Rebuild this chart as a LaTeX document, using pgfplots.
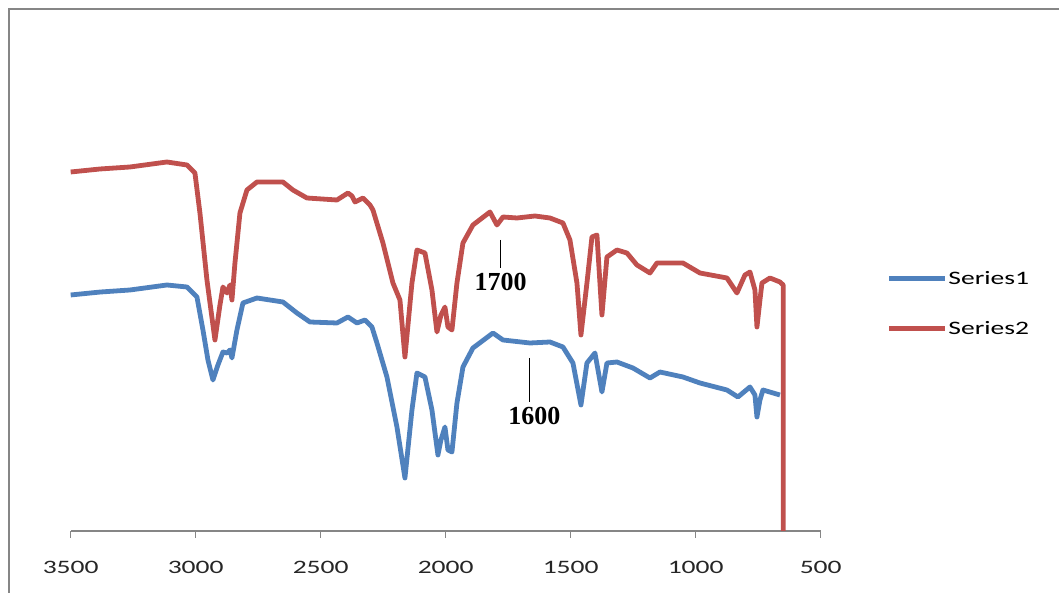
\documentclass[border=0pt]{standalone}
\usepackage{fontspec}
\setmainfont{Carlito}[FakeStretch=1.45]
\newfontfamily\annfont{Liberation Serif}
\usepackage{pgfplots}
\pgfplotsset{compat=1.18}
\definecolor{serA}{HTML}{4F81BD}
\definecolor{serB}{HTML}{C0504D}
\definecolor{axgray}{HTML}{868686}
\begin{document}
\begin{tikzpicture}[x=1pt,y=1pt]
\path[use as bounding box] (0,0) rectangle (1059,593);
\fill[white] (0,0) rectangle (1059,593);
\draw[color=axgray, line width=2.5pt] (9,0) -- (9,584) -- (1059,584);
\begin{axis}[
  at={(70.7pt,62pt)}, anchor=south west,
  width=750pt, height=500pt, scale only axis,
  xmin=500, xmax=3500, x dir=reverse,
  ymin=0, ymax=500,
  axis x line=bottom, axis y line=none,
  x axis line style={color=axgray, line width=1.5pt, -},
  xtick={500,1000,1500,2000,2500,3000,3500},
  major tick length=7pt, tick align=outside,
  xtick style={color=axgray, line width=1.2pt},
  xticklabel style={anchor=center, yshift=-29pt, font=\fontsize{19}{22}\selectfont, text=black!85},
  /pgf/number format/assume math mode=true,
  /pgf/number format/set thousands separator={},
  clip=false,
  legend style={at={(1.088,0.455)}, anchor=west, draw=none, fill=none,
    font=\fontsize{19}{22}\selectfont, row sep=33pt, inner sep=0pt,
    nodes={inner sep=1pt}},
  legend cell align=left,
  legend image code/.code={\draw[#1, line width=4.5pt] (0pt,0pt) -- (56pt,0pt);},
]
\addplot[color=serA, line width=4.8pt, line join=round] coordinates {
(3500,236)(3380,239)(3263,241)(3115,246)(3035,244)(2995,234)(2971,201)(2951,171)
(2931,151)(2911,166)(2891,179)(2875,178)(2863,181)(2855,173)(2835,201)(2811,228)
(2755,233)(2651,229)(2595,218)(2543,209)(2435,208)(2391,214)(2355,208)(2323,211)
(2295,204)(2275,188)(2235,154)(2195,104)(2163,53)(2135,121)(2115,158)(2083,154)
(2055,121)(2031,76)(2019,91)(2003,104)(1991,81)(1975,79)(1955,128)(1931,164)
(1891,183)(1811,198)(1771,191)(1663,188)(1583,189)(1531,184)(1491,168)(1459,126)
(1435,168)(1403,178)(1375,139)(1355,168)(1315,169)(1251,163)(1183,153)(1143,159)
(1051,154)(983,148)(875,141)(831,134)(783,144)(763,136)(755,114)(743,131)
(731,141)(663,136)
};
\addlegendentry{Series1}
\addplot[color=serB, line width=4.8pt, line join=round] coordinates {
(3500,359)(3383,362)(3263,364)(3115,369)(3035,366)(3003,358)(2983,318)(2955,251)
(2923,191)(2903,226)(2891,244)(2875,238)(2863,246)(2855,231)(2843,268)(2823,318)
(2795,341)(2755,349)(2651,349)(2611,341)(2555,333)(2435,331)(2391,338)(2375,335)
(2363,329)(2331,333)(2303,326)(2291,321)(2251,288)(2211,248)(2183,231)(2163,174)
(2135,248)(2115,281)(2083,278)(2055,241)(2035,199)(2019,216)(2003,224)(1991,204)
(1975,201)(1955,248)(1931,288)(1891,306)(1823,319)(1795,306)(1771,314)(1715,313)
(1643,315)(1583,313)(1531,308)(1503,291)(1475,248)(1459,196)(1435,248)(1415,294)
(1395,296)(1383,248)(1375,216)(1355,274)(1315,281)(1275,278)(1235,266)(1183,258)
(1155,268)(1051,268)(983,258)(875,253)(835,238)(803,256)(783,259)(763,241)
(755,204)(743,231)(735,248)(703,253)(663,249)(650,246)(650,0)
};
\addlegendentry{Series2}
\draw[black, line width=0.8pt] (axis cs:1783,291) -- (axis cs:1783,263);
\node[font=\annfont\bfseries\fontsize{26}{28}\selectfont, inner sep=0pt] at (axis cs:1780,249) {1700};
\draw[black, line width=0.8pt] (axis cs:1667,173) -- (axis cs:1667,129);
\node[font=\annfont\bfseries\fontsize{26}{28}\selectfont, inner sep=0pt] at (axis cs:1645,115) {1600};
\end{axis}
\end{tikzpicture}
\end{document}
